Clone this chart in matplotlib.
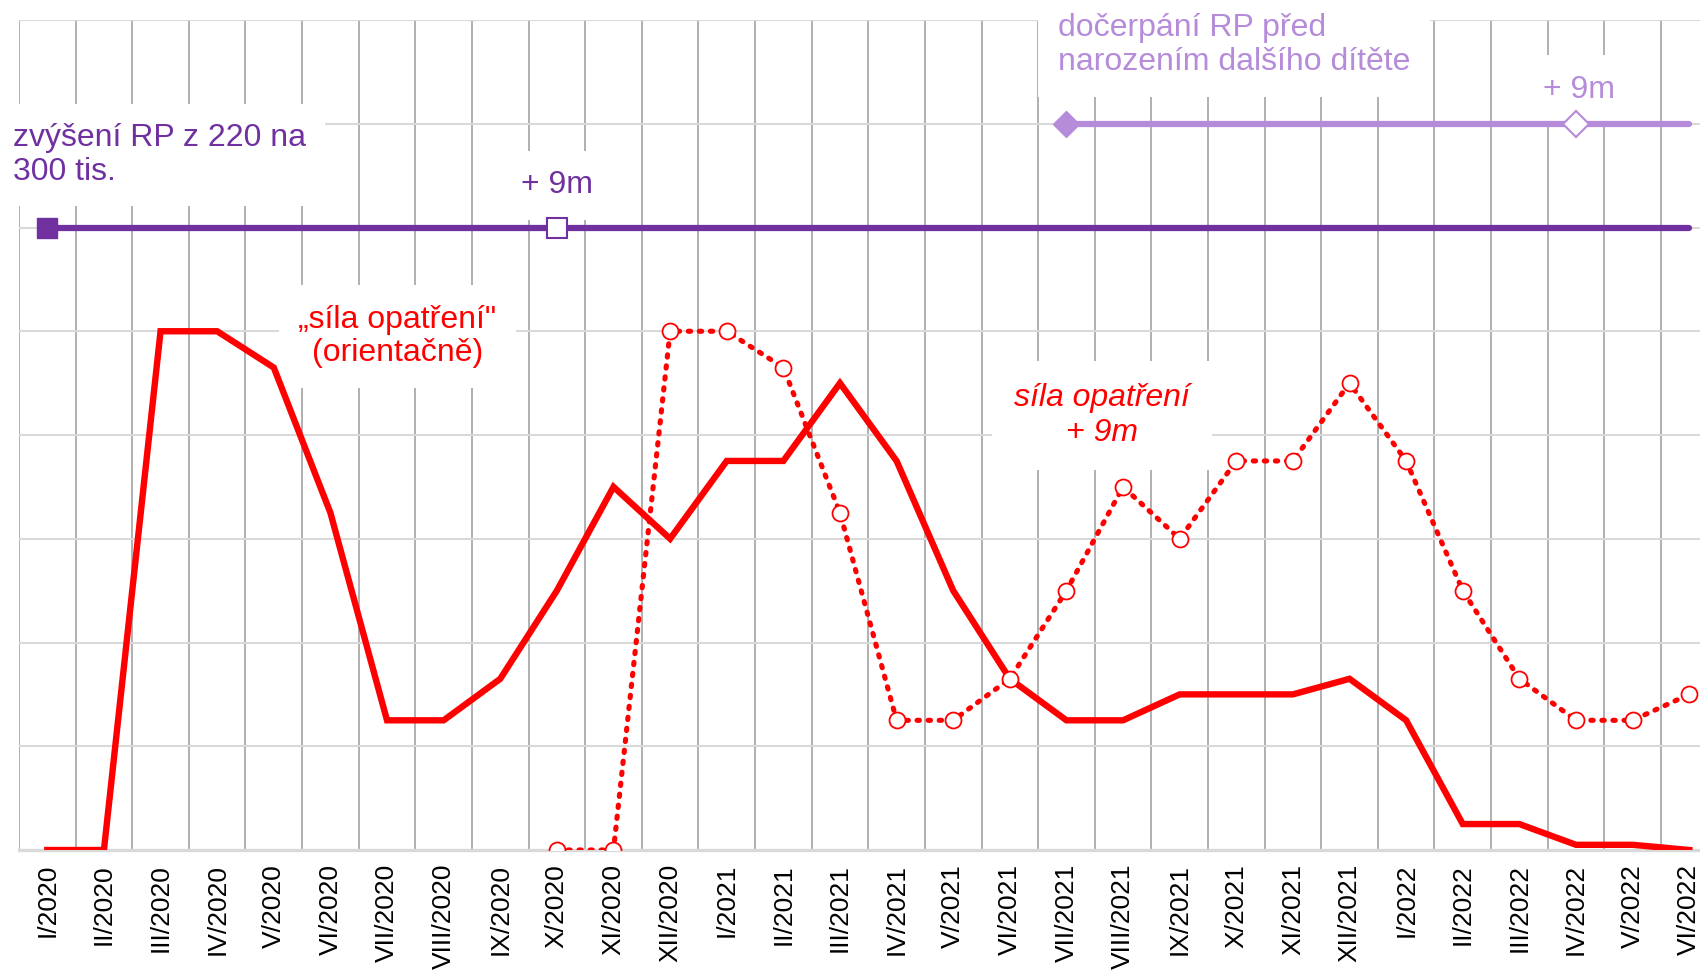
import numpy as np
import matplotlib.pyplot as plt

plt.rcParams['font.family'] = ['Liberation Sans', 'DejaVu Sans']

months = ['I/2020', 'II/2020', 'III/2020', 'IV/2020', 'V/2020', 'VI/2020',
          'VII/2020', 'VIII/2020', 'IX/2020', 'X/2020', 'XI/2020', 'XII/2020',
          'I/2021', 'II/2021', 'III/2021', 'IV/2021', 'V/2021', 'VI/2021',
          'VII/2021', 'VIII/2021', 'IX/2021', 'X/2021', 'XI/2021', 'XII/2021',
          'I/2022', 'II/2022', 'III/2022', 'IV/2022', 'V/2022', 'VI/2022']

# "sila opatreni" (orientacne), v dilcich mrizky
sila = [0, 0, 5, 5, 4.65, 3.25, 1.25, 1.25, 1.65, 2.5,
        3.5, 3.0, 3.75, 3.75, 4.5, 3.75, 2.5, 1.65, 1.25, 1.25,
        1.5, 1.5, 1.5, 1.65, 1.25, 0.25, 0.25, 0.05, 0.05, 0]

# sila opatreni posunuta o 9 mesicu
nan = np.nan
sila_9m = [nan, nan, nan, nan, nan, nan, nan, nan, nan, 0,
           0, 5, 5, 4.65, 3.25, 1.25, 1.25, 1.65, 2.5, 3.5,
           3.0, 3.75, 3.75, 4.5, 3.75, 2.5, 1.65, 1.25, 1.25, 1.5]

# zvyseni RP z 220 na 300 tis.
rp300_level = 6
rp300_start, rp300_plus9, rp300_end = 'I/2020', 'X/2020', 'VI/2022'

# docerpani RP pred narozenim dalsiho ditete
doc_level = 7
doc_start, doc_plus9, doc_end = 'VII/2021', 'IV/2022', 'VI/2022'

red = '#FF0000'
dark = '#7030A0'
light = '#B58BDA'

fig = plt.figure(figsize=(17, 9.73), dpi=100)
ax = fig.add_axes([19/1700, 1 - 850/973, 1 - 19/1700, 830/973])

x = np.arange(len(months))

# purple timelines
i0, i9, i1 = months.index(rp300_start), months.index(rp300_plus9), months.index(rp300_end)
ax.plot([i0, i1], [rp300_level, rp300_level], color=dark, lw=4.5, solid_capstyle='round', zorder=3)
ax.plot(i0, rp300_level, marker='s', ms=14.5, color=dark, zorder=4)
ax.plot(i9, rp300_level, marker='s', ms=14.5, mfc='white', mec=dark, mew=1.5, zorder=4)

j0, j9, j1 = months.index(doc_start), months.index(doc_plus9), months.index(doc_end)
ax.plot([j0, j1], [doc_level, doc_level], color=light, lw=4.5, solid_capstyle='round', zorder=3)
ax.plot(j0, doc_level, marker='D', ms=13.5, color=light, zorder=4)
ax.plot(j9, doc_level, marker='D', ms=13.5, mfc='white', mec=light, mew=1.5, zorder=4)

# red lines
ax.plot(x, sila, color=red, lw=4.6, solid_joinstyle='miter', zorder=3)
ax.plot(x, sila_9m, color=red, lw=3.7, linestyle=(0, (0.45, 1.7)), dash_capstyle='round',
        marker='o', ms=11.5, mfc='white', mec=red, mew=1.3, zorder=3)

# annotations
box = dict(facecolor='white', edgecolor='none', pad=14)
ax.text(-0.61, 6.70, 'zvýšení RP z 220 na\n300 tis.', color=dark, fontsize=23,
        ha='left', va='center', linespacing=1.15, bbox=box, zorder=2.5)
ax.text(9, 6.33, '+ 9m', color=dark, fontsize=23, ha='center', va='baseline',
        bbox=box, zorder=2.5)
ax.text(17.85, 7.76, 'dočerpání RP před\nnarozením dalšího dítěte', color=light, fontsize=23,
        ha='left', va='center', linespacing=1.2, bbox=box, zorder=2.5)
ax.text(27.05, 7.25, '+ 9m', color=light, fontsize=23, ha='center', va='baseline',
        bbox=box, zorder=2.5)
ax.text(6.18, 4.95, '„síla opatření"\n(orientačně)', color=red, fontsize=23,
        ha='center', va='center', multialignment='center', linespacing=1.15,
        bbox=box, zorder=2.5)
ax.text(18.63, 4.19, 'síla opatření\n+ 9m', color=red, fontsize=23, style='italic',
        ha='center', va='center', multialignment='center', linespacing=1.2,
        bbox=dict(facecolor='white', edgecolor='none', pad=16), zorder=2.5)

# axes, grid
ax.set_xlim(-0.5, 29.19)
ax.set_ylim(0, 8)
ax.set_xticks(x)
ax.set_xticklabels(months, rotation=90, fontsize=19)
ax.set_xticks(np.arange(-0.5, 29, 1), minor=True)
ax.set_yticks(np.arange(1, 9))
ax.set_yticklabels([])
ax.tick_params(axis='both', which='both', length=0)
ax.tick_params(axis='x', pad=10)
ax.set_axisbelow(True)
ax.grid(axis='y', color='#D9D9D9', lw=1.5)
ax.grid(axis='x', which='minor', color='#A3A3A3', lw=1.2)
for s in ['top', 'right', 'left']:
    ax.spines[s].set_visible(False)
ax.spines['bottom'].set_color('#D9D9D9')
ax.spines['bottom'].set_linewidth(2.4)

plt.savefig('out.png', dpi=100)
